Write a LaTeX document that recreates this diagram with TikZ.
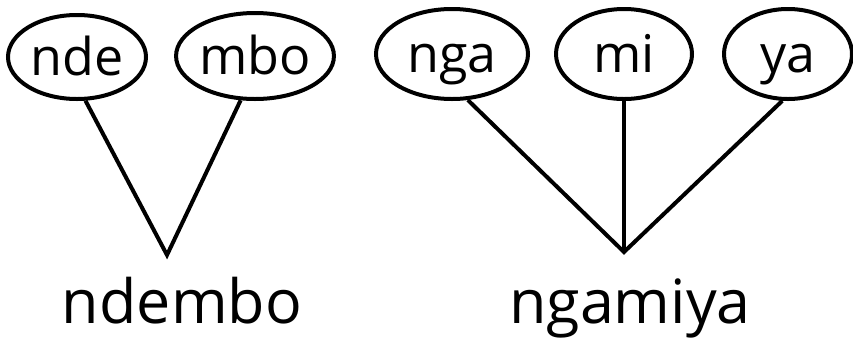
\documentclass[tikz,border=0pt]{standalone}
\usepackage{fontspec}
\setmainfont{Open Sans}
\usetikzlibrary{shapes.geometric}
\begin{document}
\begin{tikzpicture}[x=1pt,y=-1pt,
  syl/.style={draw=black,line width=4pt,ellipse,inner sep=0pt,text height=47pt,text depth=10pt,font=\fontsize{52}{54}\selectfont},
  word/.style={anchor=base,inner sep=0pt,font=\fontsize{61}{64}\selectfont},
  conn/.style={draw=black,line width=4pt,line join=miter}]
\useasboundingbox (0,0) rectangle (853,357);
\node[syl,minimum width=138pt,minimum height=84pt] (nde) at (77,57) {nde};
\node[syl,minimum width=136pt,minimum height=86pt] (mbo) at (255,56) {mbo};
\node[syl,minimum width=152pt,minimum height=90pt] (nga) at (452,54) {nga};
\node[syl,minimum width=136pt,minimum height=90pt] (mi) at (624,54) {mi};
\node[syl,minimum width=128pt,minimum height=90pt] (ya) at (788,54) {ya};
\coordinate (a1) at (167,255);
\coordinate (a2) at (624,252);
\draw[conn] (nde.-79) -- (a1) -- (mbo.-108);
\draw[conn] (nga.-71) -- (a2) -- (ya.-97);
\draw[conn] (mi.south) -- (a2);
\node[word] (w1) at (182,323) {ndembo};
\node[word] (w2) at (630,323) {ngamiya};
\end{tikzpicture}
\end{document}
